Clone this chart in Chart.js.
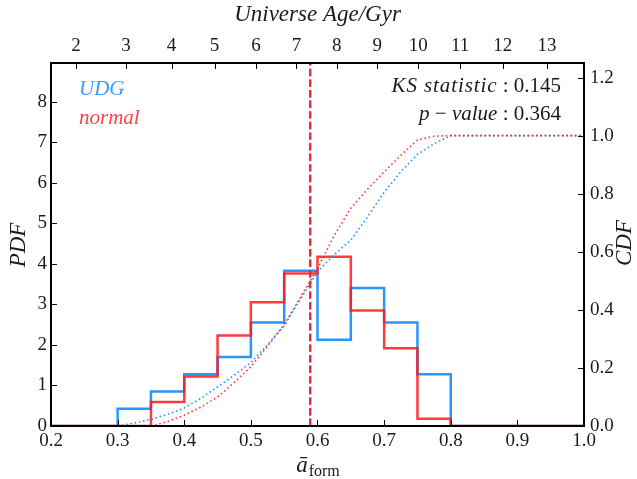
<!DOCTYPE html>
<html><head><meta charset="utf-8">
<script src="https://cdn.jsdelivr.net/npm/chart.js@4.4.1/dist/chart.umd.min.js"></script>
<style>html,body{margin:0;padding:0;background:#fff;}canvas{display:block;}</style>
</head><body>
<canvas id="c" width="637" height="479"></canvas>
<script>
// ---- data ----
const binEdges = [0.20,0.25,0.30,0.35,0.40,0.45,0.50,0.55,0.60,0.65,0.70,0.75,0.80,0.85,0.90,0.95,1.00];
const udgPdf    = [0,0,0.426,0.851,1.277,1.702,2.553,3.830,2.128,3.404,2.553,1.277,0,0,0,0];
const normalPdf = [0,0,0,0.59,1.22,2.23,3.05,3.76,4.17,2.85,1.92,0.18,0,0,0,0];
const udgCdfX   = [0.300,0.325,0.350,0.375,0.400,0.425,0.450,0.475,0.500,0.525,0.550,0.575,0.600,0.625,0.650,0.675,0.700,0.725,0.750,0.775,0.800,1.000];
const udgCdf    = [0.000,0.010,0.023,0.040,0.062,0.095,0.135,0.175,0.218,0.280,0.345,0.440,0.532,0.590,0.640,0.720,0.805,0.875,0.935,0.972,1.000,1.000];
const normalCdfX= [0.350,0.375,0.400,0.425,0.450,0.475,0.500,0.525,0.550,0.575,0.600,0.625,0.650,0.675,0.700,0.725,0.750,0.775,0.800,1.000];
const normalCdf = [0.000,0.015,0.037,0.065,0.100,0.150,0.204,0.275,0.350,0.445,0.542,0.655,0.750,0.815,0.875,0.932,0.985,0.998,1.000,1.000];
const ageTicks  = [2,3,4,5,6,7,8,9,10,11,12,13];
const medianA   = 0.589;
const ksStat = '0.145', pValue = '0.364';

// flat LCDM, used only for the top age axis
const HUBBLE_TIME_GYR = 14.42, OMEGA_M = 0.307, OMEGA_L = 0.693;
function ageToA(t){
  const pref = 2/(3*Math.sqrt(OMEGA_L))*HUBBLE_TIME_GYR;
  return Math.pow(Math.sinh(t/pref)/Math.sqrt(OMEGA_L/OMEGA_M), 2/3);
}

const BLUE = 'rgba(30,144,255,0.95)';
const RED  = 'rgba(255,25,25,0.85)';
const BLUE_TXT = '#3a9bff';
const RED_TXT = '#ff4040';
const SERIF = "'Liberation Serif', 'DejaVu Serif', serif";

function stepPoints(vals){ return binEdges.map((e,i)=>({x:e, y: i<vals.length ? vals[i] : vals[vals.length-1]})); }
function linePoints(xs, ys){ return xs.map((x,i)=>({x:x, y:ys[i]})); }

Chart.defaults.font.family = SERIF;
Chart.defaults.font.size = 19;
Chart.defaults.color = '#1a1a1a';

const decor = {
  id:'decor',
  afterDraw(chart){
    const ctx = chart.ctx, a = chart.chartArea;
    const sx = chart.scales.x, sx2 = chart.scales.x2, sy = chart.scales.y, sy2 = chart.scales.y2;
    ctx.save();
    // inward ticks
    ctx.strokeStyle = '#000'; ctx.lineWidth = 1;
    const L = 6;
    ctx.beginPath();
    sx.ticks.forEach(t=>{const p=Math.round(sx.getPixelForValue(t.value))+0.5; ctx.moveTo(p,a.bottom); ctx.lineTo(p,a.bottom-L);});
    sx2.ticks.forEach(t=>{const p=Math.round(sx2.getPixelForValue(t.value))+0.5; ctx.moveTo(p,a.top); ctx.lineTo(p,a.top+L);});
    sy.ticks.forEach(t=>{const p=Math.round(sy.getPixelForValue(t.value))+0.5; ctx.moveTo(a.left,p); ctx.lineTo(a.left+L,p);});
    sy2.ticks.forEach(t=>{const p=Math.round(sy2.getPixelForValue(t.value))+0.5; ctx.moveTo(a.right,p); ctx.lineTo(a.right-L,p);});
    ctx.stroke();
    // spines
    ctx.lineWidth = 2;
    ctx.strokeRect(a.left, a.top, a.right-a.left, a.bottom-a.top);

    ctx.fillStyle = '#1a1a1a';
    ctx.textBaseline = 'middle';
    ctx.textAlign = 'center';
    // top title
    ctx.font = 'italic 23px ' + SERIF;
    ctx.fillText('Universe Age/Gyr', (a.left+a.right)/2, 15);
    // left / right titles
    ctx.save(); ctx.translate(19, 245); ctx.rotate(-Math.PI/2); ctx.fillText('PDF', 0, 0); ctx.restore();
    ctx.save(); ctx.translate(625, 243); ctx.rotate(-Math.PI/2); ctx.fillText('CDF', 0, 0); ctx.restore();
    // bottom title: a-bar with subscript "form"
    ctx.textBaseline = 'alphabetic'; ctx.textAlign = 'left';
    ctx.font = 'italic 23px ' + SERIF;
    const wA = ctx.measureText('ā').width;
    ctx.font = '16px ' + SERIF;
    const wF = ctx.measureText('form').width;
    const x0 = (a.left+a.right)/2 - (wA+wF)/2;
    ctx.font = 'italic 23px ' + SERIF;
    ctx.fillText('ā', x0, 472);
    ctx.font = '16px ' + SERIF;
    ctx.fillText('form', x0+wA+1, 476);

    // legend labels
    ctx.font = 'italic 21px ' + SERIF;
    ctx.fillStyle = BLUE_TXT; ctx.fillText('UDG', 79, 95);
    ctx.fillStyle = RED_TXT;  ctx.fillText('normal', 79, 124);

    // KS text (right aligned)
    function mixed(parts, right, y){
      let w = 0;
      parts.forEach(p=>{ctx.font = p[1]; ctx.letterSpacing = p[2] || '0px'; w += ctx.measureText(p[0]).width;});
      let x = right - w;
      parts.forEach(p=>{ctx.font = p[1]; ctx.letterSpacing = p[2] || '0px'; ctx.fillText(p[0], x, y); x += ctx.measureText(p[0]).width;});
      ctx.letterSpacing = '0px';
    }
    ctx.fillStyle = '#1a1a1a';
    const IT = 'italic 21px ' + SERIF, RM = '21px ' + SERIF;
    mixed([['KS statistic', IT, '0.9px'], [' : ', RM], [ksStat, RM]], 561, 92);
    mixed([['p', IT], [' − ', RM], ['value', IT], [' : ', RM], [pValue, RM]], 561, 120);
    ctx.restore();
  }
};

new Chart(document.getElementById('c'), {
  type:'line',
  data:{ datasets:[
    {label:'median normal', data:[{x:medianA,y:0},{x:medianA,y:8.95}], xAxisID:'x', yAxisID:'y', borderColor:RED, borderWidth:2.2, borderDash:[7.4,3.2], pointRadius:0, order:0},
    {label:'median UDG', data:[{x:medianA,y:0},{x:medianA,y:8.95}], xAxisID:'x', yAxisID:'y', borderColor:BLUE, borderWidth:2.2, borderDash:[7.4,3.2], pointRadius:0, order:1},
    {label:'normal CDF', data:linePoints(normalCdfX, normalCdf), xAxisID:'x', yAxisID:'y2', borderColor:RED, borderWidth:1.6, borderDash:[1.6,2.7], pointRadius:0, tension:0, order:2},
    {label:'UDG CDF', data:linePoints(udgCdfX, udgCdf), xAxisID:'x', yAxisID:'y2', borderColor:BLUE, borderWidth:1.6, borderDash:[1.6,2.7], pointRadius:0, tension:0, order:3},
    {label:'normal', data:stepPoints(normalPdf), xAxisID:'x', yAxisID:'y', borderColor:RED, borderWidth:2.5, stepped:true, pointRadius:0, order:4},
    {label:'UDG', data:stepPoints(udgPdf), xAxisID:'x', yAxisID:'y', borderColor:BLUE, borderWidth:2.5, stepped:true, pointRadius:0, order:5}
  ]},
  options:{
    responsive:false, animation:false, devicePixelRatio:1,
    layout:{padding:0},
    plugins:{legend:{display:false}, tooltip:{enabled:false}},
    scales:{
      x:{type:'linear', position:'bottom', min:0.2, max:1.0,
         ticks:{stepSize:0.1, padding:4, maxRotation:0, autoSkip:false, includeBounds:false, callback:v=>Number(v).toFixed(1)},
         grid:{display:false, drawTicks:false}, border:{display:false},
         afterFit(s){s.height=53;}},
      x2:{type:'linear', position:'top', min:0.2, max:1.0,
         afterBuildTicks(s){ s.ticks = ageTicks.map(t=>({value:ageToA(t)})); },
         ticks:{padding:6, maxRotation:0, autoSkip:false, callback:(v,i)=>String(ageTicks[i])},
         grid:{display:false, drawTicks:false}, border:{display:false},
         afterFit(s){s.height=63;}},
      y:{type:'linear', position:'left', min:0, max:8.95,
         ticks:{stepSize:1, padding:4, includeBounds:false, callback:v=>String(Math.round(v))},
         grid:{display:false, drawTicks:false}, border:{display:false},
         afterFit(s){s.width=51;}},
      y2:{type:'linear', position:'right', min:0, max:1.25,
         ticks:{stepSize:0.2, padding:6, includeBounds:false, callback:v=>Number(v).toFixed(1)},
         grid:{display:false, drawTicks:false}, border:{display:false},
         afterFit(s){s.width=53;}}
    }
  },
  plugins:[decor]
});
</script>
</body></html>
